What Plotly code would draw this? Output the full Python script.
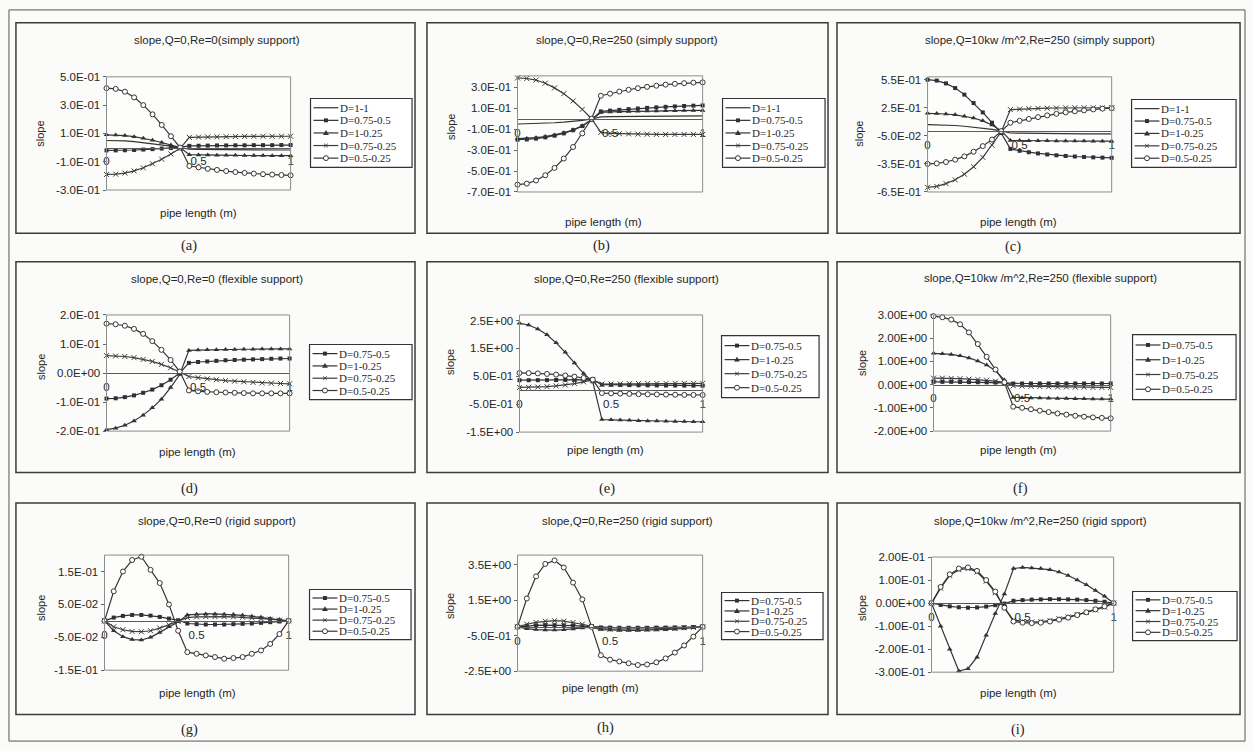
import plotly.graph_objects as go

W, H = 1253, 751

# ---------------- data ----------------
pipe_x = [0.0, 0.05, 0.1, 0.15, 0.2, 0.25, 0.3, 0.35, 0.4, 0.45, 0.5,
          0.55, 0.6, 0.65, 0.7, 0.75, 0.8, 0.85, 0.9, 0.95, 1.0]
x_tick_vals = [0, 0.5, 1]
x_tick_text = ["0", "0.5", "1"]

names5 = ["D=1-1", "D=0.75-0.5", "D=1-0.25", "D=0.75-0.25", "D=0.5-0.25"]
names4 = names5[1:]

titles = [
    "slope,Q=0,Re=0(simply support)",
    "slope,Q=0,Re=250 (simply support)",
    "slope,Q=10kw /m^2,Re=250 (simply support)",
    "slope,Q=0,Re=0 (flexible support)",
    "slope,Q=0,Re=250 (flexible support)",
    "slope,Q=10kw /m^2,Re=250 (flexible support)",
    "slope,Q=0,Re=0 (rigid support)",
    "slope,Q=0,Re=250 (rigid support)",
    "slope,Q=10kw /m^2,Re=250 (rigid spport)",
]
panel_labels = ["(a)", "(b)", "(c)", "(d)", "(e)", "(f)", "(g)", "(h)", "(i)"]

# (a) simply support, Q=0, Re=0
a_d11 = [0.05, 0.05, 0.047, 0.042, 0.035, 0.027, 0.019, 0.01, 0.0, -0.012, -0.013,
         -0.014, -0.015, -0.015, -0.016, -0.016, -0.017, -0.017, -0.017, -0.017, -0.017]
a_d075_05 = [-0.02, -0.02, -0.019, -0.017, -0.014, -0.011, -0.007, -0.003, 0.001, 0.012, 0.013,
             0.014, 0.015, 0.015, 0.016, 0.016, 0.017, 0.017, 0.017, 0.018, 0.018]
a_d1_025 = [0.09, 0.089, 0.085, 0.077, 0.066, 0.052, 0.036, 0.018, 0.0, -0.05, -0.052,
            -0.053, -0.054, -0.055, -0.055, -0.056, -0.056, -0.056, -0.057, -0.057, -0.057]
a_d075_025 = [-0.19, -0.188, -0.18, -0.165, -0.143, -0.115, -0.082, -0.045, -0.005, 0.072, 0.074,
              0.075, 0.076, 0.077, 0.078, 0.079, 0.079, 0.08, 0.08, 0.08, 0.08]
a_d05_025 = [0.42, 0.415, 0.395, 0.355, 0.3, 0.235, 0.16, 0.08, 0.0, -0.13, -0.14,
             -0.15, -0.158, -0.166, -0.173, -0.179, -0.184, -0.188, -0.191, -0.194, -0.196]

# (b) simply support, Q=0, Re=250
b_d11 = [-0.05, -0.048, -0.045, -0.042, -0.038, -0.032, -0.025, -0.015, -0.002, 0.018, 0.02,
         0.021, 0.022, 0.023, 0.024, 0.025, 0.025, 0.026, 0.026, 0.027, 0.027]
b_d075_05 = [-0.2, -0.198, -0.19, -0.178, -0.162, -0.14, -0.11, -0.07, -0.01, 0.07, 0.078,
             0.085, 0.092, 0.098, 0.104, 0.109, 0.114, 0.118, 0.122, 0.125, 0.127]
b_d1_025 = [-0.19, -0.188, -0.181, -0.17, -0.155, -0.134, -0.106, -0.068, -0.01, 0.06, 0.065,
            0.068, 0.07, 0.072, 0.074, 0.075, 0.076, 0.077, 0.078, 0.079, 0.08]
b_d075_025 = [0.39, 0.385, 0.37, 0.34, 0.295, 0.24, 0.17, 0.09, 0.0, -0.13, -0.14,
              -0.143, -0.145, -0.147, -0.148, -0.149, -0.15, -0.15, -0.15, -0.15, -0.15]
b_d05_025 = [-0.63, -0.62, -0.59, -0.54, -0.47, -0.38, -0.27, -0.14, 0.0, 0.22, 0.24,
             0.26, 0.277, 0.292, 0.305, 0.316, 0.326, 0.334, 0.34, 0.345, 0.348]

# (c) simply support, Q=10kw/m^2, Re=250
c_d11 = [0.07, 0.068, 0.065, 0.06, 0.052, 0.043, 0.032, 0.018, 0.002, -0.02, -0.022,
         -0.024, -0.025, -0.026, -0.027, -0.028, -0.029, -0.03, -0.03, -0.03, -0.03]
c_d075_05 = [0.55, 0.54, 0.51, 0.46, 0.39, 0.3, 0.2, 0.09, -0.02, -0.19, -0.21,
             -0.225, -0.238, -0.249, -0.258, -0.265, -0.271, -0.276, -0.28, -0.283, -0.285]
c_d1_025 = [0.19, 0.188, 0.183, 0.174, 0.16, 0.14, 0.11, 0.065, 0.005, -0.1, -0.1,
            -0.102, -0.103, -0.104, -0.105, -0.105, -0.106, -0.106, -0.107, -0.107, -0.107]
c_d075_025 = [-0.6, -0.59, -0.56, -0.52, -0.46, -0.38, -0.28, -0.15, -0.01, 0.23, 0.235,
              0.24, 0.243, 0.245, 0.247, 0.249, 0.25, 0.25, 0.25, 0.25, 0.25]
c_d05_025 = [-0.35, -0.345, -0.33, -0.305, -0.27, -0.22, -0.16, -0.09, 0.0, 0.09, 0.11,
             0.13, 0.15, 0.168, 0.185, 0.2, 0.212, 0.222, 0.232, 0.24, 0.245]

# (d) flexible support, Q=0, Re=0
d_d075_05 = [-0.088, -0.087, -0.083, -0.077, -0.068, -0.057, -0.042, -0.023, 0.0, 0.035, 0.038,
             0.04, 0.042, 0.044, 0.045, 0.046, 0.047, 0.048, 0.049, 0.05, 0.05]
d_d1_025 = [-0.195, -0.19, -0.18, -0.165, -0.145, -0.12, -0.09, -0.05, -0.005, 0.078, 0.079,
            0.08, 0.08, 0.081, 0.081, 0.082, 0.082, 0.083, 0.083, 0.083, 0.083]
d_d075_025 = [0.06, 0.059, 0.057, 0.053, 0.047, 0.04, 0.03, 0.018, 0.003, -0.012, -0.016,
              -0.02, -0.023, -0.026, -0.028, -0.03, -0.032, -0.034, -0.035, -0.036, -0.037]
d_d05_025 = [0.17, 0.168, 0.163, 0.152, 0.135, 0.11, 0.08, 0.045, 0.005, -0.06, -0.063,
             -0.065, -0.066, -0.067, -0.068, -0.069, -0.07, -0.07, -0.07, -0.07, -0.07]

# (e) flexible support, Q=0, Re=250
e_d075_05 = [0.36, 0.36, 0.362, 0.364, 0.367, 0.37, 0.372, 0.375, 0.378, 0.2, 0.195,
             0.19, 0.185, 0.18, 0.177, 0.174, 0.172, 0.17, 0.168, 0.166, 0.165]
e_d1_025 = [2.4, 2.34, 2.2, 1.99, 1.7, 1.36, 0.98, 0.6, 0.3, -1.05, -1.06,
            -1.07, -1.08, -1.09, -1.1, -1.1, -1.11, -1.12, -1.12, -1.13, -1.13]
e_d075_025 = [0.1, 0.105, 0.115, 0.13, 0.155, 0.19, 0.24, 0.3, 0.37, 0.22, 0.225,
              0.23, 0.235, 0.24, 0.242, 0.245, 0.247, 0.25, 0.25, 0.25, 0.25]
e_d05_025 = [0.62, 0.615, 0.605, 0.585, 0.56, 0.53, 0.49, 0.44, 0.38, -0.1, -0.11,
             -0.12, -0.13, -0.14, -0.145, -0.15, -0.155, -0.16, -0.165, -0.168, -0.17]

# (f) flexible support, Q=10kw/m^2, Re=250
f_d075_05 = [0.12, 0.12, 0.12, 0.115, 0.11, 0.105, 0.1, 0.09, 0.08, 0.05, 0.05,
             0.05, 0.05, 0.05, 0.05, 0.05, 0.05, 0.05, 0.05, 0.05, 0.05]
f_d1_025 = [1.35, 1.33, 1.3, 1.24, 1.15, 1.02, 0.85, 0.6, 0.2, -0.55, -0.56,
            -0.57, -0.58, -0.59, -0.6, -0.6, -0.61, -0.61, -0.62, -0.62, -0.62]
f_d075_025 = [0.28, 0.28, 0.27, 0.26, 0.24, 0.22, 0.19, 0.15, 0.1, -0.05, -0.06,
              -0.07, -0.08, -0.09, -0.1, -0.1, -0.11, -0.11, -0.12, -0.12, -0.12]
f_d05_025 = [2.95, 2.9, 2.8, 2.6, 2.25, 1.75, 1.2, 0.65, 0.1, -0.95, -1.0,
             -1.06, -1.12, -1.18, -1.24, -1.29, -1.34, -1.38, -1.41, -1.43, -1.45]

# (g) rigid support, Q=0, Re=0
g_d075_05 = [0.0, 0.01, 0.015, 0.018, 0.018, 0.016, 0.012, 0.007, 0.002, -0.008, -0.01,
             -0.011, -0.011, -0.011, -0.01, -0.009, -0.008, -0.006, -0.004, -0.002, 0.0]
g_d1_025 = [0.0, -0.03, -0.048, -0.057, -0.058, -0.05, -0.035, -0.018, -0.003, 0.018, 0.02,
            0.021, 0.021, 0.02, 0.019, 0.017, 0.014, 0.011, 0.007, 0.004, 0.0]
g_d075_025 = [0.0, -0.018, -0.027, -0.032, -0.033, -0.03, -0.022, -0.012, -0.002, 0.01, 0.012,
              0.013, 0.013, 0.013, 0.012, 0.011, 0.009, 0.007, 0.005, 0.002, 0.0]
g_d05_025 = [0.0, 0.09, 0.15, 0.185, 0.195, 0.155, 0.115, 0.05, -0.03, -0.095, -0.1,
             -0.105, -0.11, -0.115, -0.113, -0.11, -0.1, -0.09, -0.07, -0.04, 0.0]

# (h) rigid support, Q=0, Re=250
h_d075_05 = [0.0, 0.05, 0.08, 0.1, 0.1, 0.09, 0.07, 0.04, 0.01, -0.03, -0.04,
             -0.05, -0.05, -0.05, -0.05, -0.04, -0.04, -0.03, -0.02, -0.01, 0.0]
h_d1_025 = [0.0, -0.1, -0.15, -0.18, -0.18, -0.16, -0.12, -0.07, -0.02, -0.15, -0.18,
            -0.2, -0.2, -0.2, -0.19, -0.18, -0.16, -0.13, -0.09, -0.05, 0.0]
h_d075_025 = [0.0, 0.15, 0.25, 0.32, 0.35, 0.32, 0.25, 0.15, 0.03, -0.1, -0.12,
              -0.13, -0.13, -0.13, -0.12, -0.11, -0.1, -0.08, -0.05, -0.03, 0.0]
h_d05_025 = [0.0, 1.6, 2.85, 3.55, 3.75, 3.35, 2.5, 1.55, 0.0, -1.6, -1.85,
             -1.95, -2.05, -2.15, -2.12, -2.0, -1.78, -1.45, -1.05, -0.55, 0.0]

# (i) rigid support, Q=10kw/m^2, Re=250
i_d075_05 = [0.0, -0.008, -0.014, -0.018, -0.02, -0.019, -0.015, -0.009, -0.002, 0.01, 0.013,
             0.015, 0.016, 0.017, 0.017, 0.016, 0.015, 0.013, 0.01, 0.006, 0.0]
i_d1_025 = [0.0, -0.1, -0.2, -0.295, -0.285, -0.235, -0.14, -0.045, 0.04, 0.15, 0.155,
            0.152, 0.15, 0.145, 0.135, 0.12, 0.1, 0.08, 0.055, 0.03, 0.0]
i_d075_025 = [0.0, 0.065, 0.12, 0.145, 0.15, 0.135, 0.095, 0.045, -0.02, -0.075, -0.08,
              -0.082, -0.08, -0.076, -0.068, -0.06, -0.05, -0.04, -0.03, -0.018, 0.0]
i_d05_025 = [0.0, 0.07, 0.125, 0.15, 0.155, 0.14, 0.1, 0.05, -0.02, -0.08, -0.085,
             -0.087, -0.085, -0.08, -0.072, -0.063, -0.052, -0.04, -0.027, -0.014, 0.0]

# y-axis scales and tick labels
a_yticks = [-0.3, -0.1, 0.1, 0.3, 0.5]
a_ytext = ["-3.0E-01", "-1.0E-01", "1.0E-01", "3.0E-01", "5.0E-01"]
b_yticks = [-0.7, -0.5, -0.3, -0.1, 0.1, 0.3]
b_ytext = ["-7.0E-01", "-5.0E-01", "-3.0E-01", "-1.0E-01", "1.0E-01", "3.0E-01"]
c_yticks = [-0.65, -0.35, -0.05, 0.25, 0.55]
c_ytext = ["-6.5E-01", "-3.5E-01", "-5.0E-02", "2.5E-01", "5.5E-01"]
d_yticks = [-0.2, -0.1, 0.0, 0.1, 0.2]
d_ytext = ["-2.0E-01", "-1.0E-01", "0.0E+00", "1.0E-01", "2.0E-01"]
e_yticks = [-1.5, -0.5, 0.5, 1.5, 2.5]
e_ytext = ["-1.5E+00", "-5.0E-01", "5.0E-01", "1.5E+00", "2.5E+00"]
f_yticks = [-2, -1, 0, 1, 2, 3]
f_ytext = ["-2.00E+00", "-1.00E+00", "0.00E+00", "1.00E+00", "2.00E+00", "3.00E+00"]
g_yticks = [-0.15, -0.05, 0.05, 0.15]
g_ytext = ["-1.5E-01", "-5.0E-02", "5.0E-02", "1.5E-01"]
h_yticks = [-2.5, -0.5, 1.5, 3.5]
h_ytext = ["-2.5E+00", "-5.0E-01", "1.5E+00", "3.5E+00"]
i_yticks = [-0.3, -0.2, -0.1, 0.0, 0.1, 0.2]
i_ytext = ["-3.00E-01", "-2.00E-01", "-1.00E-01", "0.00E+00", "1.00E-01", "2.00E-01"]

panels = [
    dict(names=names5, series=[a_d11, a_d075_05, a_d1_025, a_d075_025, a_d05_025],
         yticks=a_yticks, ytext=a_ytext, yrange=[-0.3, 0.5]),
    dict(names=names5, series=[b_d11, b_d075_05, b_d1_025, b_d075_025, b_d05_025],
         yticks=b_yticks, ytext=b_ytext, yrange=[-0.7, 0.41]),
    dict(names=names5, series=[c_d11, c_d075_05, c_d1_025, c_d075_025, c_d05_025],
         yticks=c_yticks, ytext=c_ytext, yrange=[-0.65, 0.58]),
    dict(names=names4, series=[d_d075_05, d_d1_025, d_d075_025, d_d05_025],
         yticks=d_yticks, ytext=d_ytext, yrange=[-0.2, 0.2]),
    dict(names=names4, series=[e_d075_05, e_d1_025, e_d075_025, e_d05_025],
         yticks=e_yticks, ytext=e_ytext, yrange=[-1.5, 2.7]),
    dict(names=names4, series=[f_d075_05, f_d1_025, f_d075_025, f_d05_025],
         yticks=f_yticks, ytext=f_ytext, yrange=[-2.0, 3.0]),
    dict(names=names4, series=[g_d075_05, g_d1_025, g_d075_025, g_d05_025],
         yticks=g_yticks, ytext=g_ytext, yrange=[-0.15, 0.2]),
    dict(names=names4, series=[h_d075_05, h_d1_025, h_d075_025, h_d05_025],
         yticks=h_yticks, ytext=h_ytext, yrange=[-2.5, 4.05]),
    dict(names=names4, series=[i_d075_05, i_d1_025, i_d075_025, i_d05_025],
         yticks=i_yticks, ytext=i_ytext, yrange=[-0.3, 0.2]),
]

# ---------------- layout geometry (pixels) ----------------
GEOM = [
    dict(panel=(13, 17, 414, 231), plot=(104, 72, 289, 187), legend=(309, 94, 411, 164),
         title=(215, 35), label=(187, 243), ytitle=(37, 130), xtitle=(196, 210)),
    dict(panel=(426, 17, 829, 231), plot=(517, 71, 703, 189), legend=(723, 94, 826, 164),
         title=(627, 35), label=(601, 243), ytitle=(450, 123), xtitle=(603, 220)),
    dict(panel=(838, 17, 1243, 231), plot=(929, 72, 1114, 189), legend=(1134, 95, 1239, 164),
         title=(1042, 35), label=(1015, 244), ytitle=(860, 130), xtitle=(1020, 220)),
    dict(panel=(13, 260, 414, 474), plot=(104, 314, 288, 432), legend=(308, 344, 411, 400),
         title=(215, 277), label=(187, 490), ytitle=(38, 367), xtitle=(195, 453)),
    dict(panel=(426, 260, 829, 474), plot=(519, 314, 703, 433), legend=(722, 335, 820, 398),
         title=(627, 277), label=(607, 490), ytitle=(449, 362), xtitle=(605, 451)),
    dict(panel=(838, 260, 1243, 474), plot=(935, 314, 1113, 432), legend=(1135, 334, 1239, 400),
         title=(1042, 276), label=(1022, 490), ytitle=(863, 363), xtitle=(1020, 451)),
    dict(panel=(13, 505, 414, 720), plot=(102, 558, 287, 675), legend=(308, 593, 410, 644),
         title=(215, 523), label=(187, 735), ytitle=(38, 612), xtitle=(195, 698)),
    dict(panel=(426, 505, 829, 720), plot=(517, 558, 703, 676), legend=(722, 596, 824, 644),
         title=(628, 523), label=(605, 733), ytitle=(449, 610), xtitle=(600, 693)),
    dict(panel=(838, 505, 1243, 720), plot=(933, 560, 1116, 677), legend=(1135, 595, 1240, 645),
         title=(1042, 523), label=(1020, 735), ytitle=(863, 612), xtitle=(1020, 698)),
]

STYLE = {
    "D=1-1": dict(color="#3a302c", marker=None),
    "D=0.75-0.5": dict(color="#2e3038", marker="square"),
    "D=1-0.25": dict(color="#2f3535", marker="triangle"),
    "D=0.75-0.25": dict(color="#3c3c3c", marker="x"),
    "D=0.5-0.25": dict(color="#363636", marker="circle"),
}

SANS = "Liberation Sans, Arial, sans-serif"
SERIF = "Liberation Serif, Times New Roman, serif"
INK = "#262626"


def fx(px):
    return px / W


def fy(py):
    return 1 - py / H


fig = go.Figure()
shapes = []
annotations = []


def marker_spec(kind, color):
    if kind == "square":
        return dict(symbol="square", size=4, color=color, line=dict(width=0))
    if kind == "triangle":
        return dict(symbol="triangle-up", size=5, color=color, line=dict(width=0))
    if kind == "x":
        return dict(symbol="x-thin", size=5, color=color, line=dict(width=1, color=color))
    if kind == "circle":
        return dict(symbol="circle", size=5, color="white", line=dict(width=1, color=color))
    return None


def legend_marker(kind, cx, cy, color):
    if kind == "square":
        shapes.append(dict(type="rect", xref="paper", yref="paper",
                           x0=fx(cx - 2), x1=fx(cx + 2), y0=fy(cy + 2), y1=fy(cy - 2),
                           fillcolor=color, line=dict(width=0)))
    elif kind == "triangle":
        path = (f"M {fx(cx)},{fy(cy - 3)} L {fx(cx + 3)},{fy(cy + 2)} "
                f"L {fx(cx - 3)},{fy(cy + 2)} Z")
        shapes.append(dict(type="path", xref="paper", yref="paper", path=path,
                           fillcolor=color, line=dict(width=0)))
    elif kind == "x":
        for s in (1, -1):
            shapes.append(dict(type="line", xref="paper", yref="paper",
                               x0=fx(cx - 1.8), x1=fx(cx + 1.8),
                               y0=fy(cy - 1.8 * s), y1=fy(cy + 1.8 * s),
                               line=dict(color=color, width=1)))
    elif kind == "circle":
        shapes.append(dict(type="circle", xref="paper", yref="paper",
                           x0=fx(cx - 2.5), x1=fx(cx + 2.5), y0=fy(cy + 2.5), y1=fy(cy - 2.5),
                           fillcolor="white", line=dict(color=color, width=1)))


for k, (p, g) in enumerate(zip(panels, GEOM), start=1):
    sfx = "" if k == 1 else str(k)
    xa, ya = "x" + sfx, "y" + sfx
    L, T, R, B = g["plot"]
    y0, y1 = p["yrange"]

    for name, vals in zip(p["names"], p["series"]):
        st = STYLE[name]
        mk = marker_spec(st["marker"], st["color"])
        fig.add_trace(go.Scatter(
            x=pipe_x, y=vals, xaxis=xa, yaxis=ya, name=name,
            mode="lines+markers" if mk else "lines",
            line=dict(color=st["color"], width=1.2),
            marker=mk, showlegend=False, cliponaxis=False,
        ))

    # horizontal category axis sits on the zero line
    zero_py = T + (y1 - 0) / (y1 - y0) * (B - T)
    fig.layout["xaxis" + sfx] = dict(
        domain=[fx(L), fx(R)], range=[0, 1], anchor="free", position=fy(zero_py),
        color=INK, showline=True, linecolor="#5a5a5a", linewidth=1,
        showgrid=False, zeroline=False,
        tickvals=x_tick_vals, ticktext=x_tick_text, ticks="",
        tickfont=dict(family=SANS, size=11.5, color=INK), ticklabelstandoff=3,
    )
    fig.layout["yaxis" + sfx] = dict(
        domain=[fy(B), fy(T)], range=[y0, y1], anchor=xa, color=INK,
        showline=False, showgrid=False, zeroline=False,
        tickvals=p["yticks"], ticktext=p["ytext"], ticks="outside", ticklen=3,
        tickcolor="#666666", tickfont=dict(family=SANS, size=11.5, color=INK),
    )

    # plot-area frame
    shapes.append(dict(type="rect", xref=xa + " domain", yref=ya + " domain",
                       x0=0, x1=1, y0=0, y1=1, line=dict(color="#8c8c8c", width=1)))
    # chart frame
    pL, pT, pR, pB = g["panel"]
    shapes.append(dict(type="rect", xref="paper", yref="paper",
                       x0=fx(pL), x1=fx(pR), y0=fy(pB), y1=fy(pT),
                       line=dict(color="#3c3c3c", width=1.5)))

    annotations.append(dict(x=fx(g["title"][0]), y=fy(g["title"][1]), xref="paper", yref="paper",
                            text=titles[k - 1], showarrow=False, xanchor="center", yanchor="middle",
                            font=dict(family=SANS, size=11.5, color=INK)))
    annotations.append(dict(x=fx(g["label"][0]), y=fy(g["label"][1]), xref="paper", yref="paper",
                            text=panel_labels[k - 1], showarrow=False, xanchor="center",
                            yanchor="middle", font=dict(family=SERIF, size=14.5, color=INK)))
    annotations.append(dict(x=fx(g["ytitle"][0]), y=fy(g["ytitle"][1]), xref="paper", yref="paper",
                            text="slope", textangle=-90, showarrow=False, xanchor="center",
                            yanchor="middle", font=dict(family=SANS, size=11, color=INK)))
    annotations.append(dict(x=fx(g["xtitle"][0]), y=fy(g["xtitle"][1]), xref="paper", yref="paper",
                            text="pipe length (m)", showarrow=False, xanchor="center",
                            yanchor="middle", font=dict(family=SANS, size=11.5, color=INK)))

    # legend box
    lL, lT, lR, lB = g["legend"]
    shapes.append(dict(type="rect", xref="paper", yref="paper",
                       x0=fx(lL), x1=fx(lR), y0=fy(lB), y1=fy(lT),
                       fillcolor="white", line=dict(color="#333333", width=1.2)))
    n = len(p["names"])
    step = (lB - lT - 6) / n
    for j, name in enumerate(p["names"]):
        st = STYLE[name]
        cy = lT + 3 + (j + 0.5) * step
        shapes.append(dict(type="line", xref="paper", yref="paper",
                           x0=fx(lL + 3), x1=fx(lL + 28), y0=fy(cy), y1=fy(cy),
                           line=dict(color=st["color"], width=1.2)))
        if st["marker"]:
            legend_marker(st["marker"], lL + 15.5, cy, st["color"])
        annotations.append(dict(x=fx(lL + 28), y=fy(cy), xref="paper", yref="paper",
                                text=name, showarrow=False, xanchor="left", yanchor="middle",
                                font=dict(family=SERIF, size=11, color=INK)))

# outer frame around the whole figure
shapes.append(dict(type="rect", xref="paper", yref="paper",
                   x0=fx(6), x1=fx(1248), y0=fy(747), y1=fy(4),
                   line=dict(color="#555555", width=1)))

fig.update_layout(
    width=W, height=H, margin=dict(l=0, r=0, t=0, b=0),
    paper_bgcolor="#fbfbf9", plot_bgcolor="#fdfdfc",
    showlegend=False, shapes=shapes, annotations=annotations,
)

fig.write_html("out.html")
